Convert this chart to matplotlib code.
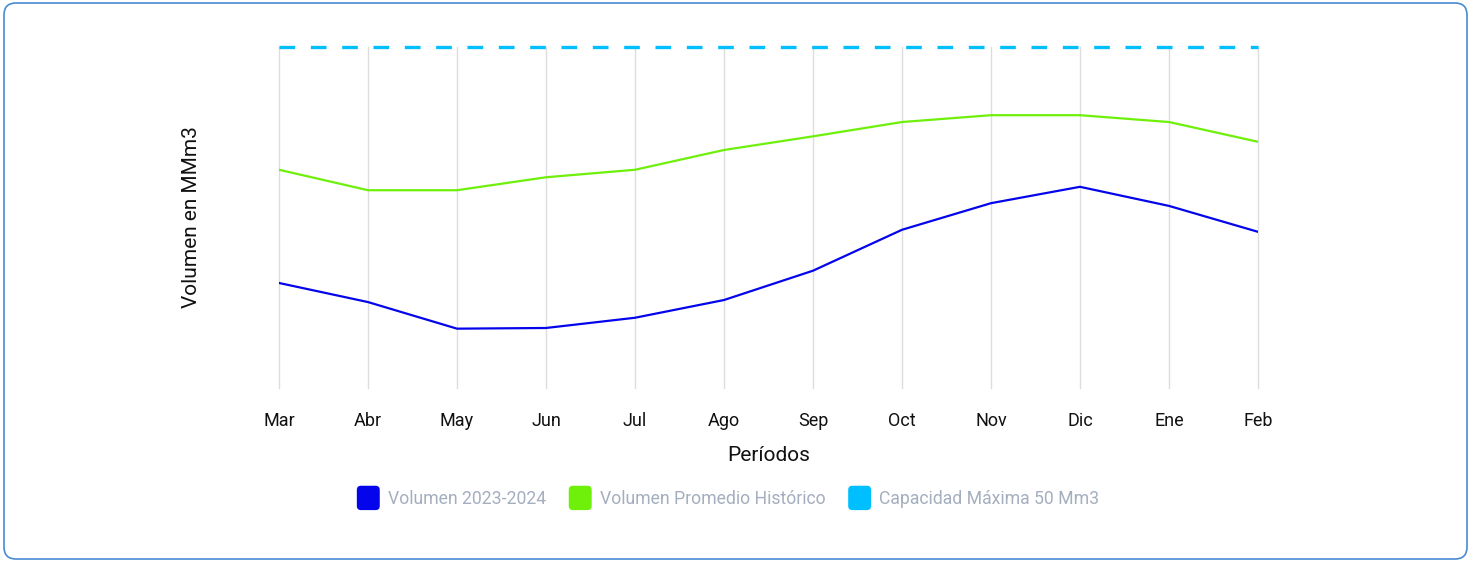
import matplotlib
matplotlib.use("Agg")
import matplotlib.pyplot as plt
from matplotlib.patches import FancyBboxPatch, Patch
from matplotlib.legend_handler import HandlerPatch

plt.rcParams['font.family'] = ['Roboto', 'DejaVu Sans']

periodos = ["Mar", "Abr", "May", "Jun", "Jul", "Ago", "Sep", "Oct", "Nov", "Dic", "Ene", "Feb"]
vol_2023 = [15.4, 12.6, 8.7, 8.8, 10.3, 12.9, 17.2, 23.2, 27.1, 29.5, 26.7, 22.9]
vol_hist = [32.0, 29.0, 29.0, 30.9, 32.0, 34.9, 36.9, 39.0, 40.0, 40.0, 39.0, 36.1]
capacidad = [50] * len(periodos)

c_blue = "#0505ec"
c_green = "#6ef00a"
c_cyan = "#00bfff"

fig = plt.figure(figsize=(14.77, 5.63), dpi=100)

# rounded frame around the whole chart
frame = FancyBboxPatch((4, 4), 1463, 556, boxstyle="round,pad=0,rounding_size=12",
                       transform=None, facecolor="white", edgecolor="#4a8ad4",
                       linewidth=1.2, zorder=-10)
fig.patches.append(frame)

ax = fig.add_axes([279/1477, 1 - 388/563, (1258-279)/1477, (388-47)/563])
ax.set_facecolor("none")
x = list(range(len(periodos)))

ax.plot(x, vol_2023, color=c_blue, lw=1.6)
ax.plot(x, vol_hist, color=c_green, lw=1.6)
ax.plot(x, capacidad, color=c_cyan, lw=2.4, ls=(0, (4.7, 4.7)), clip_on=False)

ax.set_xlim(0, len(periodos) - 1)
ax.set_ylim(0, 50)
ax.set_xticks(x)
ax.set_xticklabels(periodos, fontsize=13, color="#111111")
ax.set_yticks([])
ax.tick_params(axis="x", length=0, pad=17)
ax.grid(axis="x", color="#dddddd", lw=1)
for gl in ax.get_xgridlines():
    gl.set_clip_on(False)
for s in ax.spines.values():
    s.set_visible(False)

ax.set_xlabel("Períodos", fontsize=15, color="#111111", labelpad=12)
ax.set_ylabel("Volumen en MMm3", fontsize=15, color="#111111", labelpad=56)


class RoundHandler(HandlerPatch):
    def create_artists(self, legend, orig_handle, xdescent, ydescent, width, height, fontsize, trans):
        p = FancyBboxPatch((-xdescent, -ydescent - 3.5), width, height + 7,
                           boxstyle="round,pad=0,rounding_size=3",
                           facecolor=orig_handle.get_facecolor(), edgecolor="none",
                           transform=trans)
        return [p]


handles = [Patch(facecolor=c_blue), Patch(facecolor=c_green), Patch(facecolor=c_cyan)]
labels = ["Volumen 2023-2024", "Volumen Promedio Histórico", "Capacidad Máxima 50 Mm3"]
leg = fig.legend(handles, labels, loc="center", bbox_to_anchor=(728/1477, 1 - 499/563),
                 ncol=3, frameon=False, fontsize=12.7, handlelength=1.3, handleheight=0.9,
                 handletextpad=0.45, columnspacing=1.3,
                 handler_map={Patch: RoundHandler()})
for t in leg.get_texts():
    t.set_color("#a5aebf")

fig.savefig("out.png", dpi=100)
